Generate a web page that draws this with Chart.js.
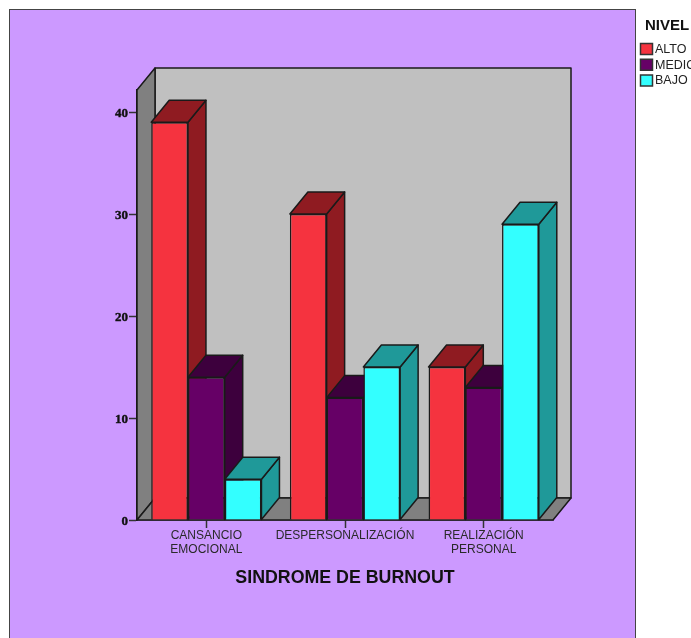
<!DOCTYPE html>
<html>
<head>
<meta charset="utf-8">
<title>Sindrome de Burnout</title>
<script src="https://cdn.jsdelivr.net/npm/chart.js@4"></script>
<style>
  html, body { margin: 0; padding: 0; background: #fff; }
  #wrap { width: 691px; height: 638px; position: relative; overflow: hidden; }
</style>
</head>
<body>
<div id="wrap"><canvas id="burnoutChart" width="691" height="638"></canvas></div>
<script>
const categories = [["CANSANCIO", "EMOCIONAL"], "DESPERSONALIZACIÓN", ["REALIZACIÓN", "PERSONAL"]];
const alto = [39, 30, 15];
const medio = [14, 12, 13];
const bajo = [4, 15, 29];
const yTicks = [0, 10, 20, 30, 40];

const FONT = "'Liberation Sans', Arial, sans-serif";
const DX = 18, DY = -22; // depth of the fake 3d box
const LINE = "#1a1a1a";

function quad(ctx, pts, fill) {
  ctx.beginPath();
  ctx.moveTo(pts[0][0], pts[0][1]);
  for (let i = 1; i < pts.length; i++) ctx.lineTo(pts[i][0], pts[i][1]);
  ctx.closePath();
  ctx.fillStyle = fill;
  ctx.fill();
  ctx.lineWidth = 1.5;
  ctx.strokeStyle = LINE;
  ctx.stroke();
}

// panel behind everything
const panel = {
  id: "panel",
  beforeDraw(chart) {
    const c = chart.ctx;
    c.save();
    c.fillStyle = "#fff";
    c.fillRect(0, 0, chart.width, chart.height);
    c.fillStyle = "#cc99ff";
    c.fillRect(10, 10, 626, 640);
    c.strokeStyle = "#444";
    c.lineWidth = 1;
    c.strokeRect(9.5, 9.5, 626, 640);
    c.restore();
  }
};

// walls, floor, then bar sides and tops left to right. front faces are the real bars, drawn after
const box3d = {
  id: "box3d",
  beforeDatasetsDraw(chart) {
    const c = chart.ctx;
    const a = chart.chartArea;
    c.save();
    c.lineJoin = "round";
    quad(c, [[a.left + DX, a.top + DY], [a.right + DX, a.top + DY], [a.right + DX, a.bottom + DY], [a.left + DX, a.bottom + DY]], "#c0c0c0");
    quad(c, [[a.left, a.top], [a.left + DX, a.top + DY], [a.left + DX, a.bottom + DY], [a.left, a.bottom]], "#808080");
    quad(c, [[a.left, a.bottom], [a.left + DX, a.bottom + DY], [a.right + DX, a.bottom + DY], [a.right, a.bottom]], "#808080");

    categories.forEach((_, i) => {
      chart.data.datasets.forEach((ds, d) => {
        const bar = chart.getDatasetMeta(d).data[i];
        const half = bar.width / 2;
        const l = bar.x - half, r = bar.x + half, t = bar.y, b = bar.base;
        quad(c, [[r, t], [r + DX, t + DY], [r + DX, b + DY], [r, b]], ds.shade);
        quad(c, [[l, t], [l + DX, t + DY], [r + DX, t + DY], [r, t]], ds.shade);
      });
    });
    c.restore();
  }
};

// legend sits tight against the panel like the original
const sideLegend = {
  id: "sideLegend",
  afterDraw(chart) {
    const c = chart.ctx;
    c.save();
    c.textBaseline = "middle";
    c.textAlign = "left";
    c.fillStyle = "#111";
    c.font = "bold 15px " + FONT;
    c.fillText("NIVEL", 645, 26);
    c.font = "12.5px " + FONT;
    chart.data.datasets.forEach((ds, i) => {
      const y = 43 + i * 15.75;
      c.fillStyle = ds.backgroundColor;
      c.fillRect(640.5, y + 0.5, 12, 11);
      c.strokeStyle = "#333";
      c.lineWidth = 1.5;
      c.strokeRect(640.5, y + 0.5, 12, 11);
      c.fillStyle = "#222";
      c.fillText(ds.label, 655, y + 6.5);
    });
    c.restore();
  }
};

new Chart(document.getElementById("burnoutChart"), {
  type: "bar",
  data: {
    labels: categories,
    datasets: [
      { label: "ALTO", data: alto, backgroundColor: "#f5333f", shade: "#8f1b21" },
      { label: "MEDIO", data: medio, backgroundColor: "#660066", shade: "#3d003d" },
      { label: "BAJO", data: bajo, backgroundColor: "#33ffff", shade: "#1f9999" }
    ]
  },
  options: {
    responsive: false,
    animation: false,
    layout: { padding: { left: 0, top: 90, right: 138, bottom: 0 } },
    categoryPercentage: 0.795,
    barPercentage: 1,
    borderColor: LINE,
    borderWidth: 1.5,
    plugins: {
      legend: { display: false },
      tooltip: { enabled: false }
    },
    scales: {
      x: {
        grid: { offset: false, drawOnChartArea: false, tickLength: 8, tickColor: "#333", tickWidth: 1.5 },
        border: { color: LINE, width: 1.5 },
        ticks: { color: "#2a2a2a", font: { family: FONT, size: 12 }, maxRotation: 0, autoSkip: false, padding: 0 },
        title: { display: true, text: "SINDROME DE BURNOUT", color: "#111", font: { family: FONT, size: 17.8, weight: "bold" }, padding: { top: 13, bottom: 49 } },
        afterFit(s) { s.height = 118; }
      },
      y: {
        min: 0,
        max: 42.16,
        afterBuildTicks(s) { s.ticks = yTicks.map(v => ({ value: v })); },
        grid: { drawOnChartArea: false, tickLength: 8, tickColor: "#333", tickWidth: 1.5 },
        border: { color: LINE, width: 1.5 },
        ticks: {
          color: "#111",
          font: { family: "'Liberation Serif', serif", size: 13, weight: "bold", lineHeight: "4px" },
          padding: 1,
          textStrokeColor: "#111",
          textStrokeWidth: 0.4,
          // empty first line pushes the number 2px under its tick, as in the original
          callback: v => ["", String(v)]
        },
        afterFit(s) { s.width = 137; }
      }
    }
  },
  plugins: [panel, box3d, sideLegend]
});
</script>
</body>
</html>
